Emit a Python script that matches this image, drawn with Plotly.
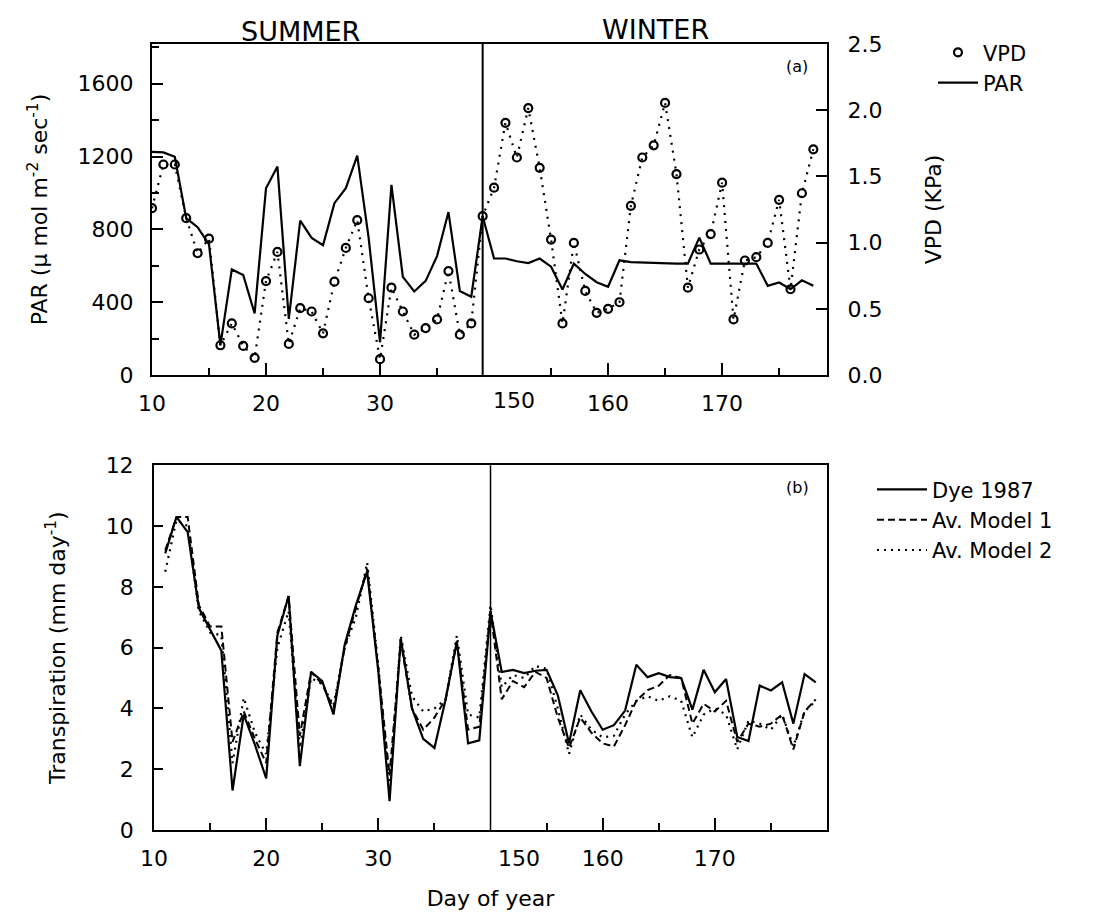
import plotly.graph_objects as go

# ---------------- data ----------------
WINTER_OFFSET = 110  # winter days are drawn right after the summer days (broken axis)

# Panel (a)
days_summer_a = list(range(10, 40))
par_summer = [1226, 1223, 1199, 862, 812, 717, 164, 580, 550, 338,
              1026, 1145, 308, 848, 753, 713, 944, 1026, 1205, 753,
              180, 1044, 539, 459, 517, 653, 895, 462, 430, 872]
vpd_summer = [1.26, 1.59, 1.59, 1.185, 0.92, 1.03, 0.225, 0.39, 0.22, 0.13,
              0.71, 0.93, 0.235, 0.505, 0.48, 0.315, 0.705, 0.96, 1.17, 0.58,
              0.12, 0.66, 0.48, 0.305, 0.355, 0.42, 0.785, 0.305, 0.39, 1.2]

days_winter_a = list(range(150, 179))
par_winter = [640, 640, 625, 615, 640, 595, 470, 612, 555, 510,
              485, 630, 620, 617, 615, 613, 612, 612, 755, 612,
              612, 612, 612, 612, 490, 508, 471, 520, 490]
vpd_winter = [1.415, 1.905, 1.643, 2.016, 1.565, 1.023, 0.39, 0.998, 0.635, 0.47,
              0.50, 0.55, 1.278, 1.643, 1.735, 2.055, 1.518, 0.66, 0.948, 1.065,
              1.453, 0.42, 0.865, 0.89, 0.998, 1.323, 0.648, 1.373, 1.705]

# Panel (b)
days_summer_b = list(range(11, 40))
dye_summer = [9.1, 10.3, 9.8, 7.3, 6.6, 5.9, 1.3, 3.8, 2.8, 1.7,
              6.4, 7.7, 2.1, 5.2, 4.9, 3.8, 6.1, 7.4, 8.5, 5.2,
              0.95, 6.3, 4.0, 3.0, 2.7, 4.3, 6.2, 2.85, 2.95]
m1_summer = [9.2, 10.3, 10.3, 7.4, 6.7, 6.7, 2.9, 3.9, 3.0, 2.2,
             6.5, 7.7, 3.1, 5.2, 4.8, 4.0, 6.0, 7.3, 8.6, 5.3,
             1.8, 6.2, 4.0, 3.3, 3.7, 4.3, 6.2, 3.3, 3.4]
m2_summer = [8.5, 10.2, 10.0, 7.2, 6.5, 6.4, 2.2, 4.35, 3.2, 2.5,
             6.0, 7.2, 2.7, 5.0, 4.8, 4.1, 6.0, 7.0, 8.8, 5.4,
             1.3, 6.4, 4.4, 3.9, 4.0, 4.3, 6.4, 3.8, 3.7]

days_winter_b = list(range(150, 180))
dye_winter = [7.2, 5.2, 5.27, 5.16, 5.24, 5.27, 4.43, 2.85, 4.6, 3.9,
              3.3, 3.45, 3.93, 5.44, 5.03, 5.16, 5.03, 5.0, 3.96, 5.27,
              4.53, 4.97, 3.06, 2.93, 4.75, 4.59, 4.86, 3.5, 5.13, 4.86]
m1_winter = [7.2, 4.3, 4.9, 4.7, 5.2, 5.0, 3.7, 2.7, 3.7, 3.2,
             2.85, 2.75, 3.45, 4.25, 4.6, 4.75, 5.1, 5.0, 3.5, 4.15,
             3.9, 4.25, 2.9, 3.5, 3.4, 3.5, 3.8, 2.65, 3.9, 4.3]
m2_winter = [7.4, 4.7, 5.1, 5.0, 5.4, 5.3, 4.0, 2.5, 3.8, 3.3,
             3.05, 3.1, 3.8, 4.25, 4.4, 4.25, 4.4, 4.25, 3.05, 3.8,
             4.0, 3.8, 2.65, 3.6, 3.5, 3.3, 3.8, 2.75, 3.9, 4.25]

tick_days = [10, 20, 30, 150, 160, 170]
minor_days = [15, 25, 35, 155, 165, 175]
par_ticks = [0, 400, 800, 1200, 1600]
vpd_ticks = [0.0, 0.5, 1.0, 1.5, 2.0, 2.5]
tr_ticks = [0, 2, 4, 6, 8, 10, 12]


def pos(day):
    return day if day < 100 else day - WINTER_OFFSET


x_a = [pos(d) for d in days_summer_a + days_winter_a]
x_b = [pos(d) for d in days_summer_b + days_winter_b]
tickpos = [pos(d) for d in tick_days if d != 150]
ticktext = [str(d) for d in tick_days if d != 150]
minorpos = [pos(d) for d in minor_days]
# the first winter label ("150") is written just right of the break line

FONT = "DejaVu Sans"
BLACK = "black"
TICK_SIZE = 22
TITLE_SIZE = 22

DIV_A = pos(days_summer_a[-1])   # break line of panel (a)
DIV_B = pos(days_winter_b[0])    # break line of panel (b)

fig = go.Figure()

# ---- panel (a) ----
fig.add_trace(go.Scatter(
    x=x_a, y=vpd_summer + vpd_winter, mode="lines",
    line=dict(color=BLACK, width=2.2, dash="2px,6px"),
    xaxis="x", yaxis="y2", showlegend=False, hoverinfo="skip"))
fig.add_trace(go.Scatter(
    x=x_a, y=vpd_summer + vpd_winter, mode="markers", name="VPD",
    marker=dict(symbol="circle-open", size=8, color=BLACK, line=dict(width=2.2)),
    xaxis="x", yaxis="y2", legend="legend"))
fig.add_trace(go.Scatter(
    x=x_a, y=par_summer + par_winter, mode="lines", name="PAR",
    line=dict(color=BLACK, width=2.2),
    xaxis="x", yaxis="y", legend="legend"))

# ---- panel (b) ----
fig.add_trace(go.Scatter(
    x=x_b, y=dye_summer + dye_winter, mode="lines", name="Dye 1987",
    line=dict(color=BLACK, width=2.2),
    xaxis="x2", yaxis="y3", legend="legend2"))
fig.add_trace(go.Scatter(
    x=x_b, y=m1_summer + m1_winter, mode="lines", name="Av. Model 1",
    line=dict(color=BLACK, width=2, dash="7px,4px"),
    xaxis="x2", yaxis="y3", legend="legend2"))
fig.add_trace(go.Scatter(
    x=x_b, y=m2_summer + m2_winter, mode="lines", name="Av. Model 2",
    line=dict(color=BLACK, width=2.2, dash="2px,5px"),
    xaxis="x2", yaxis="y3", legend="legend2"))

axis_common = dict(showgrid=False, zeroline=False, showline=True, linecolor=BLACK,
                   linewidth=2, ticks="inside", tickcolor=BLACK, tickwidth=2,
                   tickfont=dict(family=FONT, size=TICK_SIZE, color=BLACK))

xticks = dict(tickmode="array", tickvals=tickpos, ticktext=ticktext,
              ticklen=12, ticklabelstandoff=8,
              minor=dict(tickmode="array", tickvals=minorpos, ticks="inside",
                         ticklen=7, tickcolor=BLACK, tickwidth=2, showgrid=False))

fig.update_layout(
    width=1094, height=919,
    margin=dict(l=152, r=267, t=44, b=82),
    paper_bgcolor="white", plot_bgcolor="white",
    font=dict(family=FONT, size=TICK_SIZE, color=BLACK),
    xaxis=dict(**axis_common, **xticks, domain=[0, 1], anchor="y",
               range=[10, 69.2], mirror=True, showticklabels=True),
    yaxis=dict(**axis_common, domain=[0.5788, 1], anchor="x", range=[0, 1818],
               tickmode="array", tickvals=par_ticks, ticklen=11, ticklabelstandoff=12,
               minor=dict(tickmode="array", tickvals=[200, 600, 1000, 1400, 1800],
                          ticks="inside", ticklen=7, tickcolor=BLACK, tickwidth=2),
               title=dict(text="PAR (\u03bc mol m<sup>-2</sup> sec<sup>-1</sup>)",
                          font=dict(family=FONT, size=TITLE_SIZE), standoff=24)),
    yaxis2=dict(**axis_common, overlaying="y", side="right", anchor="x",
                range=[0, 2.5], tickmode="array", tickvals=vpd_ticks,
                ticktext=["%.1f" % v for v in vpd_ticks], ticklen=11,
                ticklabelstandoff=14,
                title=dict(text="VPD (KPa)", font=dict(family=FONT, size=TITLE_SIZE),
                           standoff=44)),
    xaxis2=dict(**axis_common, **xticks, domain=[0.003, 1], anchor="y3",
                range=[10, 70], mirror=True,
                title=dict(text="Day of year", font=dict(family=FONT, size=TITLE_SIZE),
                           standoff=20)),
    yaxis3=dict(**axis_common, domain=[0, 0.464], anchor="x2", range=[0, 12],
                tickmode="array", tickvals=tr_ticks, ticklen=9, ticklabelstandoff=14,
                mirror=True,
                title=dict(text="Transpiration (mm day<sup>-1</sup>)",
                           font=dict(family=FONT, size=TITLE_SIZE), standoff=34)),
    legend=dict(x=1.157, y=1.015, xanchor="left", yanchor="top",
                font=dict(family=FONT, size=21), bgcolor="rgba(0,0,0,0)",
                itemwidth=40, tracegroupgap=0),
    legend2=dict(x=1.0667, y=0.459, xanchor="left", yanchor="top",
                 font=dict(family=FONT, size=21), bgcolor="rgba(0,0,0,0)",
                 itemwidth=50, tracegroupgap=0),
    shapes=[
        dict(type="line", xref="x", yref="y domain", x0=DIV_A, x1=DIV_A, y0=0, y1=1,
             line=dict(color=BLACK, width=2)),
        dict(type="line", xref="x2", yref="y3 domain", x0=DIV_B, x1=DIV_B, y0=0, y1=1,
             line=dict(color=BLACK, width=1.5)),
    ],
    annotations=[
        dict(text="SUMMER", xref="paper", yref="paper", x=(300 - 152) / 675,
             y=(837 - 31) / 793, xanchor="center", yanchor="middle",
             showarrow=False, font=dict(family=FONT, size=27)),
        dict(text="WINTER", xref="paper", yref="paper", x=(655 - 152) / 675,
             y=(837 - 29) / 793, xanchor="center", yanchor="middle",
             showarrow=False, font=dict(family=FONT, size=27)),
        dict(text="(a)", xref="paper", yref="paper", x=(797 - 152) / 675,
             y=(837 - 67) / 793, xanchor="center", yanchor="middle",
             showarrow=False, font=dict(family=FONT, size=16)),
        dict(text="(b)", xref="paper", yref="paper", x=(797 - 152) / 675,
             y=(837 - 491) / 793, xanchor="center", yanchor="middle",
             showarrow=False, font=dict(family=FONT, size=16)),
        dict(text="150", xref="x", yref="y domain", x=DIV_A, y=0,
             xanchor="left", yanchor="top", xshift=8, yshift=-11,
             showarrow=False, font=dict(family=FONT, size=TICK_SIZE)),
        dict(text="150", xref="x2", yref="y3 domain", x=DIV_B, y=0,
             xanchor="left", yanchor="top", xshift=5, yshift=-14,
             showarrow=False, font=dict(family=FONT, size=TICK_SIZE)),
    ],
)

fig.write_html("out.html")
